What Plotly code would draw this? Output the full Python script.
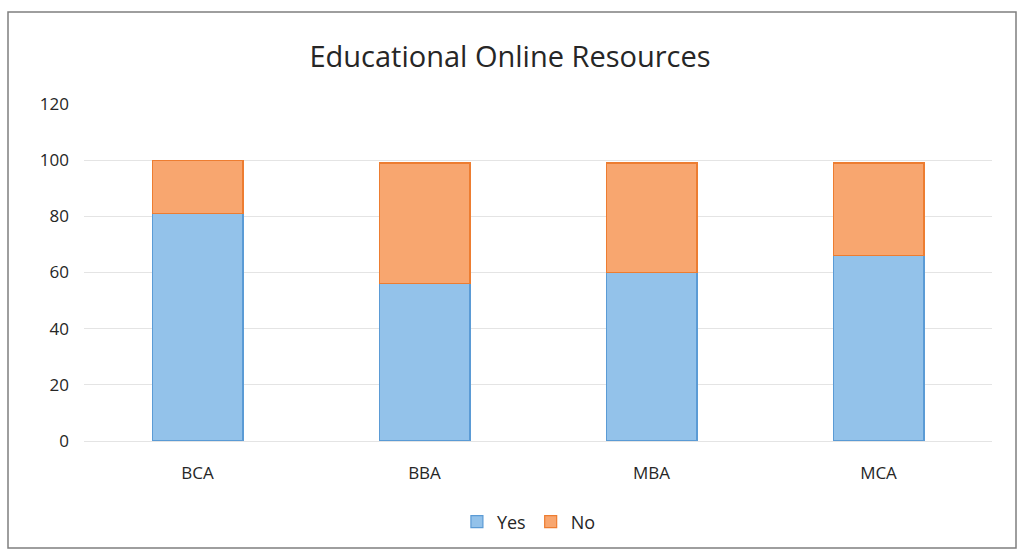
import plotly.graph_objects as go

# Survey results per programme (stacked to roughly 100%)
programmes = ["BCA", "BBA", "MBA", "MCA"]
yes_values = [81, 56, 60, 66]
no_values = [19, 43, 39, 33]
y_ticks = [0, 20, 40, 60, 80, 100, 120]

W, H = 1020, 556
margin = dict(l=84, r=28, t=104, b=115)

fig = go.Figure()
fig.add_trace(go.Bar(
    name="Yes", x=programmes, y=yes_values,
    marker=dict(color="#93c2ea", line=dict(color="#5b9bd5", width=1.2)),
))
fig.add_trace(go.Bar(
    name="No", x=programmes, y=no_values,
    marker=dict(color="#f8a66f", line=dict(color="#ed7d31", width=1.2)),
))

# Outer chart frame, expressed in paper coordinates of the plot area
pw = W - margin["l"] - margin["r"]
ph = H - margin["t"] - margin["b"]
def px_x(x):
    return (x - margin["l"]) / pw
def px_y(y):
    return (H - margin["b"] - y) / ph

fig.add_shape(type="rect", xref="paper", yref="paper",
              x0=px_x(8), x1=px_x(1016), y0=px_y(548), y1=px_y(12),
              line=dict(color="#7f7f7f", width=1.5), fillcolor="rgba(0,0,0,0)",
              layer="below")

fig.update_layout(
    width=W, height=H,
    barmode="stack",
    bargap=0.6,
    margin=margin,
    paper_bgcolor="white",
    plot_bgcolor="white",
    font=dict(family="Open Sans, Liberation Sans, sans-serif", color="#404040"),
    title=dict(text="Educational Online Resources", x=0.5, xanchor="center",
               y=1 - 57 / H, yanchor="middle",
               font=dict(size=29, color="#262626")),
    xaxis=dict(showgrid=False, showline=False, ticks="",
               tickfont=dict(size=17, color="#262626"), ticklabelstandoff=20),
    yaxis=dict(range=[0, 120], tickvals=y_ticks, showgrid=True,
               gridcolor="#e4e4e4", gridwidth=1, zeroline=True,
               zerolinecolor="#e4e4e4", zerolinewidth=1, showline=False,
               tickfont=dict(size=17, color="#262626"), ticklabelstandoff=14),
    legend=dict(orientation="h", x=0.49, xanchor="center",
                y=px_y(522), yanchor="middle",
                font=dict(size=18, color="#262626"), traceorder="normal",
                itemwidth=30),
    showlegend=True,
)

fig.write_html("out.html")
